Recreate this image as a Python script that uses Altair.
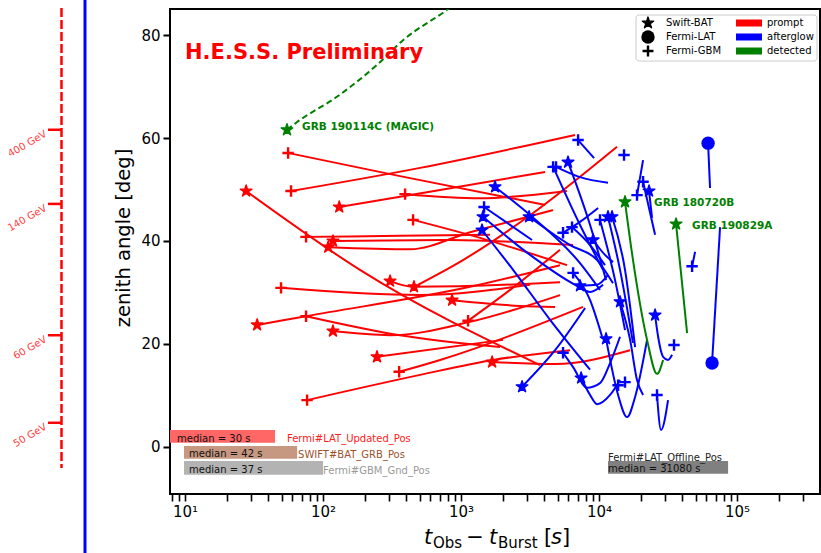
import altair as alt
import pandas as pd

# ------------------------------------------------------------------ data
# Each track: (instrument, observation times [s], zenith angles [deg]); first point carries the marker.
# instruments: BAT = Swift-BAT (star), LAT = Fermi-LAT (circle), GBM = Fermi-GBM (plus)
prompt_tracks = [
    ("GBM", [55.8, 361, 4064], [57.1, 52.6, 47.0]),
    ("GBM", [58.6, 505, 6699], [49.7, 54.2, 60.6]),
    ("BAT", [27.7, 185, 3735], [49.7, 34.4, 15.9]),
    ("BAT", [131, 705, 4064], [46.6, 49.9, 53.4]),
    ("GBM", [393, 1373, 5864], [49.1, 48.3, 49.7]),
    ("GBM", [449, 1373, 5864], [44.1, 40.6, 35.3]),
    ("GBM", [75.3, 361, 1622], [40.8, 41.0, 41.2]),
    ("BAT", [118, 832, 6486], [40.0, 40.2, 39.2]),
    ("BAT", [109, 427, 1162, 4645], [38.8, 38.4, 41.7, 46.0]),
    ("BAT", [306, 449, 3162, 5215], [32.2, 31.1, 31.7, 32.0]),
    ("BAT", [456, 1033, 3162, 13490], [31.1, 36.3, 45.0, 58.3]),
    ("BAT", [861, 2680, 4800], [28.5, 27.4, 27.2]),
    ("BAT", [33.3, 75.3, 1162, 5215], [23.7, 25.4, 31.1, 35.3]),
    ("GBM", [49.6, 505, 3162], [30.9, 29.5, 31.5]),
    ("BAT", [118, 306, 1162, 5215], [22.5, 21.7, 24.3, 29.5]),
    ("GBM", [75.3, 361, 1918], [25.4, 21.7, 19.4]),
    ("BAT", [246, 2015], [17.5, 20.8]),
    ("GBM", [356, 705, 7656], [14.6, 16.9, 27.2]),
    ("GBM", [76.6, 505, 1706, 6166], [9.1, 14.0, 16.9, 18.8]),
    ("BAT", [1679, 4800, 16790], [16.5, 16.1, 18.8]),
    ("GBM", [1124, 2266, 5215], [24.5, 30.5, 38.3]),
]

afterglow_tracks = [
    ("GBM", [7047, 9204], [59.6, 56.1]),
    ("GBM", [15170], [56.7]),
    ("GBM", [18840, 20840], [48.9, 55.7]),
    ("GBM", [20840, 25460], [51.5, 41.2]),
    ("BAT", [23020, 24210], [49.7, 44.5]),
    ("GBM", [4645, 7278, 10690], [54.4, 43.1, 34.4]),
    ("GBM", [4878, 7278, 11610], [54.4, 52.4, 51.3]),
    ("BAT", [5960, 8610, 11240], [55.3, 43.1, 32.4]),
    ("BAT", [1763, 3268, 7278, 10160], [50.5, 44.7, 35.7, 30.5]),
    ("GBM", [1468, 3268], [46.6, 40.2]),
    ("BAT", [1442, 3162, 6699, 8610, 10690], [44.7, 37.3, 31.5, 30.1, 31.5]),
    ("BAT", [1419, 2383, 4416, 8610], [42.1, 34.4, 24.7, 15.0]),
    ("BAT", [3112, 6166, 9683, 12620], [44.7, 39.2, 36.3, 31.8]),
    ("BAT", [9057, 11040, 12620], [40.2, 37.3, 35.9]),
    ("GBM", [5483, 7278, 9840], [41.6, 43.7, 46.4]),
    ("GBM", [6370, 8610, 11040], [42.7, 39.2, 35.3]),
    ("GBM", [10160, 13060, 15420], [44.1, 32.4, 22.7]),
    ("BAT", [11610, 14190, 17620], [44.7, 34.4, 20.2]),
    ("BAT", [12420, 15420, 18240], [44.7, 34.4, 19.4]),
    ("BAT", [7278, 9683, 11610], [31.3, 31.5, 33.4]),
    ("GBM", [6486, 8610, 10520], [33.8, 28.5, 21.4]),
    ("BAT", [2768, 4800, 7925], [11.7, 18.8, 27.0]),
    ("GBM", [5483, 6486, 8185, 10160, 12020, 14190], [18.3, 15.5, 11.5, 12.4, 16.3, 21.4]),
    ("BAT", [7413, 8610, 9683, 12020, 14190], [13.4, 10.1, 8.3, 10.1, 13.0]),
    ("BAT", [11240, 13740, 15960, 18240, 22280], [21.0, 10.1, 5.8, 9.7, 20.8]),
    ("BAT", [14190, 16790, 18840, 20840], [28.2, 20.8, 13.0, 10.1]),
    ("BAT", [25460, 26790, 29110, 31620, 33810], [25.6, 21.4, 17.5, 16.9, 17.9]),
    ("GBM", [26300, 28130, 31620], [10.1, 3.3, 9.1]),
    ("GBM", [34930], [19.8]),
    ("GBM", [47210, 49660], [35.1, 37.9]),
    ("LAT", [61670, 63700], [59.0, 50.3]),
    ("LAT", [65890, 75300], [16.3, 42.7]),
    ("GBM", [13740], [12.0]),
    ("GBM", [15420], [12.6]),
]

detected_tracks = [
    ("BAT", [15420, 17620, 22280, 26300, 29110], [47.6, 36.3, 20.8, 14.2, 16.9]),
    ("BAT", [36140, 43450], [43.3, 22.1]),
]

# GRB 190114C (MAGIC), drawn dashed
magic_times = [54.8, 64.8, 126, 246, 380, 792, 984]
magic_zenith = [61.6, 63.1, 68.0, 74.2, 79.0, 84.9, 86.8]

grb_labels = ["GRB 190114C (MAGIC)", "GRB 180720B", "GRB 190829A"]
grb_label_t = [70.5, 25060, 47210]
grb_label_z = [62.1, 47.4, 42.9]

hess_text = "H.E.S.S. Preliminary"
hess_t = 10.0
hess_z = 76.5

# median boxes
median_texts = ["median = 30 s", "median = 42 s", "median = 37 s", "median = 31080 s"]
median_t0 = [5.0, 9.83, 9.83, 11610]
median_t1 = [44.9, 64.9, 100.0, 86100]
median_z_low = [0.8, -2.3, -5.4, -5.2]
median_z_high = [3.3, 0.2, -2.7, -2.7]
median_text_t = [8.75, 10.7, 10.7, 11610]
median_text_z = [1.55, -1.36, -4.47, -4.3]
source_names = ["Fermi#LAT_Updated_Pos", "SWIFT#BAT_GRB_Pos", "Fermi#GBM_Gnd_Pos", "Fermi#LAT_Offline_Pos"]
source_t = [54.8, 65.9, 100.0, 11610]
source_z = [1.55, -1.55, -4.66, -2.1]

# energy-threshold scale on the left
energy_labels = ["400 GeV", "140 GeV", "60 GeV", "50 GeV"]
energy_zenith = [61.6, 47.2, 21.7, 4.7]

x_tick_values = [8, 9, 10, 20, 30, 40, 50, 60, 70, 80, 90,
                 100, 200, 300, 400, 500, 600, 700, 800, 900,
                 1000, 2000, 3000, 4000, 5000, 6000, 7000, 8000, 9000,
                 10000, 20000, 30000, 40000, 50000, 60000, 70000, 80000, 90000,
                 100000, 200000, 300000]
y_tick_values = [0, 20, 40, 60, 80]

# ------------------------------------------------------------------ styles
FONT = "DejaVu Sans"
PX0, PY0 = 170, 9          # plot origin inside the window
KIND_DOMAIN = ["prompt", "afterglow", "detected"]
KIND_RANGE = ["#ff0000", "#0000ff", "#008000"]
STAR = ("M0,-1L0.2245,-0.309L0.951,-0.309L0.363,0.118L0.588,0.809L0,0.382"
        "L-0.588,0.809L-0.363,0.118L-0.951,-0.309L-0.2245,-0.309Z")
PLUS = "M-1,0L1,0M0,-1L0,1"
median_fill = ["#ff6666", "#c69781", "#b3b3b3", "#808080"]
source_color = ["#ff2020", "#a0522d", "#999999", "#222222"]

# ------------------------------------------------------------------ tables
rows, marks = [], []
for kind, tracks in (("prompt", prompt_tracks), ("afterglow", afterglow_tracks), ("detected", detected_tracks)):
    for i, (inst, ts, zs) in enumerate(tracks):
        tid = f"{kind}{i}"
        for j, (t, z) in enumerate(zip(ts, zs)):
            rows.append({"track": tid, "kind": kind, "t": t, "z": z, "o": j})
        marks.append({"track": tid, "kind": kind, "inst": inst, "t": ts[0], "z": zs[0]})
marks.append({"track": "magic", "kind": "detected", "inst": "BAT", "t": magic_times[0], "z": magic_zenith[0]})
df_lines = pd.DataFrame(rows)
df_marks = pd.DataFrame(marks)
df_magic = pd.DataFrame({"t": magic_times, "z": magic_zenith, "o": list(range(len(magic_times)))})

# ------------------------------------------------------------------ encodings
label_expr = ("datum.value == 10 ? '10¹' : datum.value == 100 ? '10²' : datum.value == 1000 ? '10³' : "
              "datum.value == 10000 ? '10⁴' : datum.value == 100000 ? '10⁵' : ''")
x_axis = alt.Axis(values=x_tick_values, labelExpr=label_expr, title=None, grid=False, domain=False,
                  tickSize=7, tickWidth=1.6, tickColor="black", labelFontSize=15, labelFont=FONT,
                  labelColor="black", labelPadding=3, labelFlush=False, labelOverlap=False)
y_axis = alt.Axis(values=y_tick_values, format="d", title=None, grid=False, domain=False,
                  tickSize=7, tickWidth=2, tickColor="black", labelFontSize=15, labelFont=FONT,
                  labelColor="black", labelPadding=3)
X = alt.X("t:Q", scale=alt.Scale(type="log", domain=[7.78, 3.99e5], nice=False), axis=x_axis)
Y = alt.Y("z:Q", scale=alt.Scale(domain=[-9.13, 85.05], nice=False, zero=False), axis=y_axis)
C = alt.Color("kind:N", scale=alt.Scale(domain=KIND_DOMAIN, range=KIND_RANGE), legend=None)
S = alt.Stroke("kind:N", scale=alt.Scale(domain=KIND_DOMAIN, range=KIND_RANGE), legend=None)

layers = []

# median boxes (behind everything)
for i in range(len(median_texts)):
    d = pd.DataFrame({"t": [median_t0[i]], "t2": [median_t1[i]],
                      "z": [median_z_low[i]], "z2": [median_z_high[i]]})
    layers.append(alt.Chart(d).mark_rect(color=median_fill[i], clip=True).encode(
        x=X, x2="t2:Q", y=Y, y2="z2:Q"))

# tracks
layers.append(alt.Chart(df_lines).mark_line(interpolate="monotone", strokeWidth=2, clip=True).encode(
    x=X, y=Y, color=C, detail="track:N", order="o:Q"))
layers.append(alt.Chart(df_magic).mark_line(interpolate="monotone", strokeWidth=2, strokeDash=[6, 3.5],
                                            color="#008000", clip=True).encode(x=X, y=Y, order="o:Q"))

# markers
layers.append(alt.Chart(df_marks[df_marks.inst == "GBM"]).mark_point(
    shape=PLUS, filled=False, size=130, strokeWidth=2.4, opacity=1).encode(x=X, y=Y, color=C))
layers.append(alt.Chart(df_marks[df_marks.inst == "BAT"]).mark_point(
    shape=STAR, filled=True, size=150, opacity=1, strokeWidth=1.4, strokeJoin="round").encode(
    x=X, y=Y, color=C, stroke=S))
layers.append(alt.Chart(df_marks[df_marks.inst == "LAT"]).mark_circle(
    size=180, opacity=1).encode(x=X, y=Y, color=C))

# median texts
for i in range(len(median_texts)):
    d = pd.DataFrame({"t": [median_text_t[i]], "z": [median_text_z[i]], "label": [median_texts[i]]})
    layers.append(alt.Chart(d).mark_text(align="left", baseline="middle", font=FONT, fontSize=10,
                                         color="#111111").encode(x=X, y=Y, text="label:N"))
    d2 = pd.DataFrame({"t": [source_t[i]], "z": [source_z[i]], "label": [source_names[i]]})
    layers.append(alt.Chart(d2).mark_text(align="left", baseline="middle", font=FONT, fontSize=10,
                                          color=source_color[i]).encode(x=X, y=Y, text="label:N"))

# annotations
df_grb = pd.DataFrame({"t": grb_label_t, "z": grb_label_z, "label": grb_labels})
layers.append(alt.Chart(df_grb).mark_text(align="left", baseline="middle", font=FONT, fontSize=10.5,
                                          fontWeight="bold", color="#008000").encode(x=X, y=Y, text="label:N"))
df_hess = pd.DataFrame({"t": [hess_t], "z": [hess_z], "label": [hess_text]})
layers.append(alt.Chart(df_hess).mark_text(align="left", baseline="middle", font=FONT, fontSize=21,
                                           fontWeight="bold", color="#ff0000").encode(x=X, y=Y, text="label:N"))

# energy scale on the left
one = pd.DataFrame({"k": [0]})
layers.append(alt.Chart(one).mark_rule(color="#ff0000", strokeWidth=2.5, strokeDash=[9, 3]).encode(
    x=alt.value(61.5 - PX0), y=alt.value(8 - PY0), y2=alt.value(468 - PY0)))
df_energy = pd.DataFrame({"z": energy_zenith, "label": energy_labels})
layers.append(alt.Chart(df_energy).mark_rule(color="#ff0000", strokeWidth=2.5).encode(
    x=alt.value(48 - PX0), x2=alt.value(62 - PX0), y=Y))
layers.append(alt.Chart(df_energy).mark_text(align="right", baseline="middle", angle=330, font=FONT,
                                             fontSize=10, color="#ff4040", dy=4).encode(
    x=alt.value(44 - PX0), y=Y, text="label:N"))
layers.append(alt.Chart(one).mark_rule(color="#0000ff", strokeWidth=3).encode(
    x=alt.value(85 - PX0), y=alt.value(0 - PY0), y2=alt.value(553 - PY0)))

# axis titles
def txt(s, px, py, size, style="normal", align="left", angle=0, baseline="alphabetic"):
    return alt.Chart(one).mark_text(text=s, font=FONT, fontSize=size, fontStyle=style, align=align,
                                    baseline=baseline, angle=angle, color="black").encode(
        x=alt.value(px - PX0), y=alt.value(py - PY0))

layers.append(txt("zenith angle [deg]", 124, 238, 19.5, align="center", angle=270, baseline="middle"))
layers.append(txt("t", 424, 544, 21, style="italic"))
layers.append(txt("Obs", 433, 548, 15))
layers.append(txt("−", 475, 544, 21, align="center"))
layers.append(txt("t", 489, 544, 21, style="italic"))
layers.append(txt("Burst", 498, 548, 15))
layers.append(txt("[", 544, 544, 21))
layers.append(txt("s", 551, 544, 21, style="italic"))
layers.append(txt("]", 562, 544, 21))

# legend
layers.append(alt.Chart(one).mark_rect(fill="white", stroke="#cccccc", strokeWidth=1, cornerRadius=3).encode(
    x=alt.value(636 - PX0), x2=alt.value(817 - PX0), y=alt.value(15 - PY0), y2=alt.value(61 - PY0)))
legend_rows_y = [23, 37, 51]
layers.append(alt.Chart(one).mark_point(shape=STAR, filled=True, size=140, color="black", opacity=1,
                                        stroke="black", strokeWidth=1.4, strokeJoin="round").encode(
    x=alt.value(648 - PX0), y=alt.value(legend_rows_y[0] - PY0)))
layers.append(alt.Chart(one).mark_circle(size=180, color="black", opacity=1).encode(
    x=alt.value(648 - PX0), y=alt.value(legend_rows_y[1] - PY0)))
layers.append(alt.Chart(one).mark_point(shape=PLUS, filled=False, size=120, strokeWidth=2.4, color="black",
                                        opacity=1).encode(
    x=alt.value(648 - PX0), y=alt.value(legend_rows_y[2] - PY0)))
for name, yy in zip(["Swift-BAT", "Fermi-LAT", "Fermi-GBM"], legend_rows_y):
    layers.append(txt(name, 666, yy, 10, baseline="middle"))
for name, col, yy in zip(KIND_DOMAIN, KIND_RANGE, legend_rows_y):
    layers.append(alt.Chart(one).mark_rect(color=col).encode(
        x=alt.value(736 - PX0), x2=alt.value(762 - PX0), y=alt.value(yy - 3.5 - PY0), y2=alt.value(yy + 3.5 - PY0)))
    layers.append(txt(name, 767, yy, 10, baseline="middle"))

chart = alt.layer(*layers).properties(
    width=650, height=485,
    autosize=alt.AutoSizeParams(type="none"),
    padding={"left": PX0, "top": PY0, "right": 1, "bottom": 59},
).configure_view(stroke="black", strokeWidth=2)

chart.save("out.html", embed_options={"renderer": "svg", "actions": False})
